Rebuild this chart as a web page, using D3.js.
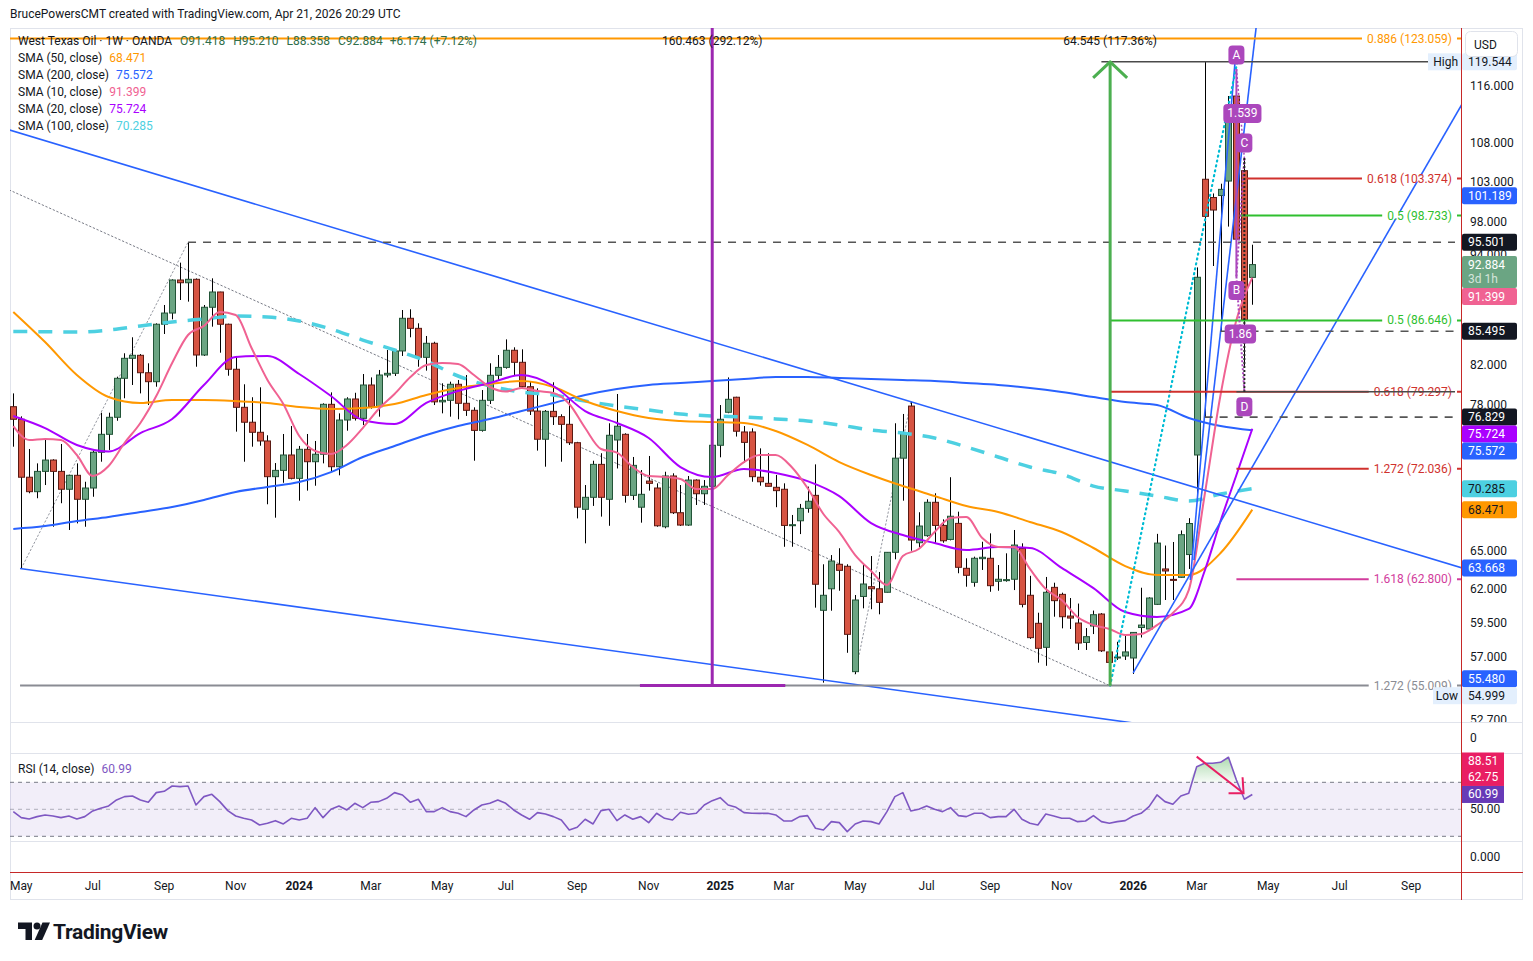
<!DOCTYPE html>
<html>
<head>
<meta charset="utf-8">
<title>West Texas Oil 1W</title>
<script src="https://cdn.jsdelivr.net/npm/d3@7/dist/d3.min.js"></script>
<style>
  html, body { margin: 0; padding: 0; background: #fff; }
  svg { display: block; font-family: Roboto, "Noto Sans", "DejaVu Sans", sans-serif; }
</style>
</head>
<body>
<svg id="chart" width="1533" height="961"></svg>
<script>
// weekly candles, first bar = week of 2023-04-24
const opens = [77.83,76.62,71.29,70.02,71.81,72.83,71.81,70.23,71.46,69.36,
  70.34,73.54,75.20,76.81,80.63,82.66,82.97,81.19,80.29,86.24,
  87.45,91.12,90.81,91.20,83.00,88.08,89.77,86.24,81.54,77.77,
  76.34,75.39,74.58,71.34,71.90,73.29,71.19,73.81,72.68,73.36,
  78.06,72.23,76.55,78.58,76.71,79.96,77.83,80.96,81.13,83.42,
  86.88,85.80,82.76,84.22,78.30,78.45,80.03,78.16,77.48,75.57,
  78.45,80.93,81.73,83.49,82.25,79.79,77.41,74.74,77.38,76.87,
  76.14,74.42,68.50,69.53,72.44,69.36,74.67,75.20,69.70,68.68,
  70.95,70.34,67.03,71.40,68.21,67.17,71.04,69.84,70.49,74.18,
  77.29,78.75,75.42,75.42,71.29,70.75,70.40,70.23,67.14,67.53,
  68.58,69.70,60.41,62.05,63.97,63.81,55.97,61.46,62.21,62.05,
  61.78,64.93,73.00,77.89,65.71,66.29,69.10,67.14,65.98,67.31,
  63.65,62.55,64.42,64.45,62.63,62.71,62.79,65.25,61.55,59.44,
  57.69,62.16,61.62,59.98,59.46,58.04,59.24,60.13,57.36,56.97,
  57.07,56.93,59.13,59.02,60.86,63.60,62.78,62.94,64.75,73.29,
  103.29,100.97,101.22,103.06,114.56,104.40,91.418];
const highs = [79.13,76.90,73.84,72.53,74.67,72.90,74.30,71.50,72.53,70.89,
  73.75,77.25,77.25,80.79,83.18,84.85,83.10,82.15,86.34,88.33,
  91.20,93.11,95.50,91.30,88.33,91.31,89.80,86.30,82.90,80.03,
  78.75,79.73,75.11,72.56,75.23,75.98,74.12,75.23,74.58,78.16,
  79.23,77.19,78.75,79.19,81.06,80.72,81.47,83.52,83.52,87.78,
  87.86,86.34,84.99,84.38,80.13,80.29,80.46,80.96,77.77,79.46,
  82.15,83.00,84.63,83.80,83.59,80.36,79.63,77.51,80.23,77.10,
  78.65,74.50,70.60,72.77,73.45,76.24,79.07,75.30,73.11,71.93,
  73.20,70.75,71.78,71.64,70.60,71.40,71.10,71.04,74.58,77.99,
  80.72,78.80,75.98,75.76,73.90,73.45,71.49,70.75,68.02,68.96,
  70.46,72.44,63.97,64.71,65.26,63.97,61.57,63.99,64.63,63.36,
  64.95,76.24,77.13,78.31,68.25,69.36,69.88,67.65,71.29,68.30,
  64.45,64.58,65.79,66.48,63.91,64.85,66.76,65.66,63.06,60.23,
  62.97,62.52,61.75,61.34,60.92,59.09,60.39,60.20,57.80,58.09,
  58.65,58.80,62.13,61.40,66.44,65.48,65.77,66.72,67.75,92.56,
  119.544,101.48,102.72,114.56,118.48,106.06,95.210];
const lows = [74.05,63.64,69.88,69.45,70.60,67.03,69.02,66.76,67.31,67.03,
  69.58,72.68,73.75,76.48,78.65,79.96,79.13,77.99,79.79,85.20,
  86.77,88.88,88.70,81.80,82.90,85.98,83.24,80.89,75.45,72.68,
  74.05,74.14,68.93,67.79,70.80,71.10,69.24,70.11,70.54,72.53,
  71.78,71.46,75.54,76.50,76.08,77.64,76.87,80.72,80.86,82.90,
  84.85,81.80,81.40,77.99,77.19,76.87,76.62,76.94,72.77,75.45,
  78.09,80.46,81.60,80.96,79.70,77.03,73.69,72.23,76.08,72.68,
  74.21,67.73,65.66,68.79,67.88,67.11,72.07,69.07,69.30,67.37,
  70.11,67.03,66.90,68.10,67.09,67.10,68.87,68.87,70.17,73.08,
  77.20,74.99,72.59,70.89,70.54,70.46,68.68,65.38,65.38,66.42,
  68.21,60.61,55.21,60.38,61.90,57.30,55.80,60.56,60.49,60.11,
  61.76,64.37,69.24,65.06,65.34,66.20,65.66,65.71,65.90,63.26,
  62.21,62.21,63.52,61.82,61.90,62.60,61.95,60.63,58.30,56.60,
  56.38,59.93,59.07,59.02,57.50,57.50,58.65,57.36,54.999,56.79,
  56.79,55.81,58.40,58.87,60.81,61.19,61.19,62.89,63.60,69.25,
  76.829,92.72,85.495,97.38,91.52,81.89,88.358];
const closes = [76.62,71.29,70.02,71.81,72.83,71.81,70.23,71.46,69.36,70.34,
  73.54,75.20,76.81,80.63,82.66,82.97,81.19,80.29,86.24,87.45,
  91.12,90.81,91.20,83.00,88.08,89.77,86.24,81.54,77.77,76.34,
  75.39,74.58,71.34,71.90,73.29,71.19,73.81,72.68,73.36,78.06,
  72.23,76.55,78.58,76.71,79.96,77.83,80.96,81.13,83.42,86.88,
  85.80,82.76,84.22,78.30,78.45,80.03,78.16,77.48,75.57,78.45,
  80.93,81.73,83.49,82.25,79.79,77.41,74.74,77.38,76.87,76.14,
  74.42,68.68,69.53,72.44,69.53,75.11,75.96,69.70,72.35,69.79,
  70.75,67.11,71.40,68.21,67.17,71.04,69.84,70.49,74.18,76.62,
  78.55,75.49,74.45,71.34,70.89,70.49,70.11,67.14,67.20,68.58,
  69.19,62.40,61.55,64.23,63.49,58.63,61.19,62.42,62.05,61.01,
  64.93,73.00,75.30,65.93,67.09,69.10,67.14,65.87,67.91,63.73,
  63.10,64.45,64.53,62.29,62.79,62.76,65.52,60.86,58.39,57.62,
  61.78,61.14,59.93,59.83,58.00,58.46,60.08,57.44,56.62,57.00,
  57.36,58.77,59.31,61.34,65.68,63.44,62.71,66.37,67.30,91.43,
  98.63,99.41,102.00,112.91,95.87,86.71,92.884];

// moving averages (week index -> value)
const slowIdx = [0,4,8,12,16,20,24,28,32,36,40,44,48,52,56,60,64,68,72,76,
  80,84,88,92,96,100,104,108,112,116,120,124,128,132,136,140,144,148,152,156];
const sma200 = [66.85,67.09,67.51,67.85,68.27,68.70,69.30,70.00,70.43,70.86,
  71.75,73.11,74.12,75.14,75.98,76.65,77.41,78.19,78.97,79.56,
  79.96,80.16,80.36,80.56,80.76,80.76,80.66,80.56,80.46,80.36,
  80.16,79.96,79.66,79.26,78.77,78.28,77.99,76.74,75.98,75.572];
const sma50 = [87.57,84.35,80.96,78.77,78.19,78.48,78.48,78.38,78.19,77.80,
  77.61,77.70,78.09,78.97,79.66,80.06,80.36,79.76,78.38,77.41,
  76.74,76.46,76.36,76.27,75.51,74.21,72.65,71.49,70.51,69.64,
  68.78,68.27,67.43,66.59,65.28,63.83,63.12,63.12,64.87,68.471];
const sma100 = [85.47,85.44,85.40,85.62,86.06,86.49,86.81,87.13,87.02,86.59,
  85.73,84.56,83.52,82.38,80.86,79.86,79.26,78.97,78.38,77.90,
  77.51,77.12,76.94,76.84,76.65,76.46,76.08,75.60,75.32,74.86,
  74.03,73.11,72.20,71.57,70.51,70.08,69.64,69.21,69.81,70.285];
const sma20Idx = [0,4,8,12,16,20,24,28,32,36,40,44,48,52,56,60,64,68,72,76,
  80,84,88,92,96,100,104,108,112,116,120,124,128,132,136,140,144,148,150,152,154,156];
const sma20 = [76.94,75.79,74.21,73.61,75.32,76.65,79.96,82.80,82.90,81.06,
  78.87,76.55,76.17,78.19,79.36,80.16,80.96,79.86,77.41,76.27,
  74.86,72.20,71.31,72.02,71.67,70.95,69.64,67.34,66.34,65.68,
  65.12,65.36,65.28,63.68,62.10,60.28,59.91,60.51,63.44,67.51,71.49,75.724];
const sma10Idx = [0,2,4,6,8,10,12,14,16,18,20,22,24,26,28,30,32,34,36,38,
  40,42,44,46,48,50,52,54,56,58,60,62,64,66,68,70,72,74,76,78,
  80,82,84,86,88,90,92,94,96,98,100,102,104,106,108,110,112,114,116,118,
  120,122,124,126,128,130,132,134,136,138,140,142,144,146,148,150,152,154,156];
const sma10 = [75.98,74.67,74.77,74.67,73.29,71.40,72.29,74.39,76.27,78.87,
  82.18,85.09,86.06,87.56,87.24,83.73,80.46,78.09,75.04,73.66,
  73.38,74.21,75.79,77.61,79.07,80.76,81.97,82.18,82.07,80.96,
  79.76,79.31,79.66,79.36,79.17,78.09,75.79,73.84,73.50,72.20,
  71.40,71.31,71.13,70.25,70.25,71.49,72.65,73.29,73.29,72.20,
  70.34,68.10,66.59,64.71,63.44,62.34,64.63,65.20,66.59,67.76,
  67.85,66.09,65.36,65.36,63.60,62.03,61.19,59.91,59.31,59.02,
  58.58,58.66,59.31,60.21,61.95,69.73,78.97,86.70,91.399];

// RSI(14) per week
const rsi = [48.27,43.83,42.84,44.57,45.80,45.06,43.83,45.06,42.84,44.57,
  48.77,50.74,52.47,56.91,59.38,59.88,56.91,55.19,62.35,63.33,
  67.28,66.79,67.28,53.21,59.38,61.11,55.68,49.01,45.06,43.33,
  42.10,38.40,39.63,41.60,39.14,43.33,42.10,43.33,51.23,43.83,
  50.00,52.47,49.51,54.44,51.23,55.19,55.68,58.15,62.35,60.62,
  55.19,57.41,48.27,48.27,51.23,48.27,47.04,44.57,49.51,53.21,
  54.44,56.91,54.44,49.51,45.80,42.59,47.53,46.54,44.57,42.10,
  34.69,36.67,42.59,39.14,49.01,50.00,41.60,45.80,42.59,44.57,
  40.12,47.04,43.33,42.10,47.78,46.30,47.04,53.21,56.42,58.64,
  53.21,51.48,47.53,47.04,47.00,
  47.04,45.80,41.36,41.36,44.57,45.31,35.93,34.69,40.86,40.12,
  33.46,39.14,41.36,40.86,39.14,48.27,59.38,62.35,48.77,50.00,
  52.47,50.00,48.27,51.23,45.31,44.57,47.04,47.04,43.83,44.57,
  44.57,50.00,42.59,39.63,38.40,46.54,45.06,43.33,43.33,40.86,
  41.36,45.31,40.86,39.63,40.86,41.60,45.06,47.04,51.98,60.62,
  55.68,53.70,59.88,61.85,81.60,84.07,84.07,84.81,88.52,71.73,
  57.41,60.99];

const priceTicks = [52.7, 57, 59.5, 62, 65, 68, 71, 74, 78, 82, 86, 90, 94, 98, 103, 108, 116];
const timeTickDates = ["2023-05-01","2023-07-03","2023-09-04","2023-11-06","2024-01-01","2024-03-04",
  "2024-05-06","2024-07-01","2024-09-02","2024-11-04","2025-01-06","2025-03-03","2025-05-05",
  "2025-07-07","2025-09-01","2025-11-03","2026-01-05","2026-03-02","2026-05-04","2026-07-06","2026-09-07"];
const timeTickLabels = ["May","Jul","Sep","Nov","2024","Mar","May","Jul","Sep","Nov","2025","Mar","May",
  "Jul","Sep","Nov","2026","Mar","May","Jul","Sep"];

// fib / level drawings
const fibRatios = ["0.886","0.618","0.5","0.5","0.618","1.272","1.618","1.272"];
const fibPrices = [123.059, 103.374, 98.733, 86.646, 79.297, 72.036, 62.800, 55.009];
const fibStart = [-0.5, 155.3, 154.5, 138.1, 138.1, 154, 154, 0.85];
const fibColors = ["#ff9800","#d0312d","#2fbf2f","#2fbf2f","#d0312d","#d0312d","#d23c9c","#8a8c93"];
const rayPrices = [95.501, 85.495, 76.829];
const rayStart = [22, 152, 150];

// price tags on the right scale
const tagValues = [119.544, 101.189, 95.501, 92.884, 91.399, 85.495, 76.829, 75.724, 75.572, 70.285, 68.471, 63.668, 55.480, 54.999];
const tagFill = ["#e3effd","#2962ff","#131722","#6ba583","#f06292","#131722","#131722","#aa00ff","#2962ff","#4dd0e1","#ff9800","#2962ff","#2962ff","#e3effd"];
const tagInk = ["#131722","#fff","#fff","#fff","#fff","#fff","#fff","#fff","#fff","#131722","#131722","#fff","#fff","#131722"];
const rsiTagValues = [88.51, 62.75, 60.99];
const rsiTagFill = ["#e91e63","#e91e63","#673ab7"];

// ---- layout ----
const left = 10, axisX = 1461, right = 1523;
const mainTop = 28, mainBottom = 722, p2Bottom = 753, rsiBottom = 841, p4Bottom = 872, timeBottom = 900;
const INK = "#131722", GRID = "#e0e3eb";
const fmt3 = d3.format(".3f"), fmt2 = d3.format(".2f");

const WEEK = 7 * 864e5;
const t0 = Date.UTC(2023, 3, 24);
const N = closes.length;
const dateOf = i => new Date(t0 + i * WEEK);
const x = d3.scaleUtc().domain([dateOf(0), dateOf(N - 1)]).range([13.3, 1252.3]);
const xi = i => x(dateOf(i));
const y = d3.scaleLog().domain([57, 116]).range([657, 86]);
const yr = d3.scaleLinear().domain([30, 70]).range([836.3, 782.3]);

const svg = d3.select("#chart");
const defs = svg.append("defs");
defs.append("clipPath").attr("id", "clipMain").append("rect")
  .attr("x", left).attr("y", mainTop).attr("width", axisX - left).attr("height", mainBottom - mainTop);
defs.append("clipPath").attr("id", "clipRsi").append("rect")
  .attr("x", left).attr("y", p2Bottom).attr("width", axisX - left).attr("height", rsiBottom - p2Bottom);
defs.append("clipPath").attr("id", "clipAxis").append("rect")
  .attr("x", axisX).attr("y", mainTop).attr("width", right - axisX).attr("height", mainBottom - mainTop);
const obGrad = defs.append("linearGradient").attr("id", "obFill").attr("x1", 0).attr("x2", 0).attr("y1", 0).attr("y2", 1);
obGrad.append("stop").attr("offset", "0%").attr("stop-color", "#4caf50").attr("stop-opacity", 0.45);
obGrad.append("stop").attr("offset", "100%").attr("stop-color", "#4caf50").attr("stop-opacity", 0.05);

svg.append("rect").attr("width", 1533).attr("height", 961).attr("fill", "#fff");

// header
svg.append("text").attr("x", 10).attr("y", 14).attr("dominant-baseline", "central")
  .attr("font-size", 12).attr("fill", INK)
  .text("BrucePowersCMT created with TradingView.com, Apr 21, 2026 20:29 UTC");

// frame + pane separators
svg.append("rect").attr("x", left + 0.5).attr("y", mainTop + 0.5).attr("width", right - left - 1)
  .attr("height", timeBottom - mainTop - 1).attr("fill", "none").attr("stroke", GRID);
[mainBottom, p2Bottom, rsiBottom].forEach(v => svg.append("line")
  .attr("x1", left).attr("x2", right).attr("y1", v + 0.5).attr("y2", v + 0.5).attr("stroke", GRID));

// ---- main pane ----
const main = svg.append("g").attr("clip-path", "url(#clipMain)");
const seg = (g, a, b, color, w, dash) => g.append("line")
  .attr("x1", xi(a[0])).attr("y1", y(a[1])).attr("x2", xi(b[0])).attr("y2", y(b[1]))
  .attr("stroke", color).attr("stroke-width", w).attr("stroke-dasharray", dash || null)
  .attr("stroke-linecap", dash && dash.startsWith("1") ? "round" : "butt");

// dotted guide lines
seg(main, [-0.5, 101.92], [138.1, 55.0], "#787b86", 1, "1.5,2.5");
seg(main, [1, 63.64], [22, 95.5], "#9598a1", 1, "1.5,2.5");
seg(main, [106, 55.8], [113, 78.31], "#9598a1", 1, "1.5,2.5");

// candles
const cg = main.append("g");
const idx = d3.range(N);
cg.selectAll("line.wick").data(idx).join("line").attr("class", "wick")
  .attr("x1", i => Math.round(xi(i)) + 0.5).attr("x2", i => Math.round(xi(i)) + 0.5)
  .attr("y1", i => y(highs[i])).attr("y2", i => y(lows[i]))
  .attr("stroke", "#000").attr("stroke-width", 1);
cg.selectAll("rect.body").data(idx).join("rect").attr("class", "body")
  .attr("x", i => Math.round(xi(i)) - 2.5)
  .attr("width", 6)
  .attr("y", i => y(Math.max(opens[i], closes[i])))
  .attr("height", i => Math.max(1, Math.abs(y(opens[i]) - y(closes[i]))))
  .attr("fill", i => closes[i] >= opens[i] ? "#6ba583" : "#d75442")
  .attr("stroke", i => closes[i] >= opens[i] ? "#225437" : "#5b1a13")
  .attr("stroke-width", 1);

// moving averages
const maLine = d3.line().x(d => xi(d[0])).y(d => y(d[1])).curve(d3.curveMonotoneX);
const drawMA = (ix, vals, color, w, dash) => main.append("path")
  .attr("d", maLine(ix.map((k, j) => [k, vals[j]])))
  .attr("fill", "none").attr("stroke", color).attr("stroke-width", w)
  .attr("stroke-dasharray", dash || null).attr("stroke-linejoin", "round");
drawMA(slowIdx, sma100, "#4dd0e1", 3.5, "14,11");
drawMA(slowIdx, sma200, "#2962ff", 2);
drawMA(slowIdx, sma50, "#ff9800", 2);
drawMA(sma20Idx, sma20, "#aa00ff", 2);
drawMA(sma10Idx, sma10, "#f06292", 2);

// trend lines
seg(main, [-0.5, 109.82], [182.5, 63.668], "#2962ff", 1.6);
seg(main, [0.85, 63.64], [182.5, 49.6], "#2962ff", 1.6);
seg(main, [141, 55.88], [182.5, 113.6], "#2962ff", 1.6);
seg(main, [148.2, 62.73], [153.9, 120.5], "#2962ff", 1.6);
seg(main, [148.65, 64.31], [156.6, 126], "#2962ff", 1.6);
seg(main, [138.1, 55.0], [154.1, 119.5], "#00bcd4", 2.2, "1,4");

// horizontal levels
const endX = axisX;
fibPrices.forEach((p, k) => {
  main.append("line").attr("x1", xi(fibStart[k])).attr("x2", endX)
    .attr("y1", y(p)).attr("y2", y(p)).attr("stroke", fibColors[k]).attr("stroke-width", 2);
});
rayPrices.forEach((p, k) => {
  main.append("line").attr("x1", xi(rayStart[k])).attr("x2", endX - 6)
    .attr("y1", y(p)).attr("y2", y(p)).attr("stroke", "#555").attr("stroke-width", 1.6)
    .attr("stroke-dasharray", "8,7");
});
// fib labels with white background
fibPrices.forEach((p, k) => {
  const g = main.append("g");
  const bg = g.append("rect");
  const t = g.append("text").attr("x", 1452).attr("y", y(p)).attr("text-anchor", "end")
    .attr("dominant-baseline", "central").attr("font-size", 12).attr("fill", fibColors[k])
    .text(`${fibRatios[k]} (${fmt3(p)})`);
  const w = t.node().getComputedTextLength();
  bg.attr("x", 1452 - w - 5).attr("y", y(p) - 3).attr("width", w + 10).attr("height", 6).attr("fill", "#fff");
});
// solid dark levels (high of range, D level)
main.append("line").attr("x1", xi(137)).attr("x2", endX - 6).attr("y1", y(119.544)).attr("y2", y(119.544))
  .attr("stroke", "#4a4a4a").attr("stroke-width", 1.6);
main.append("line").attr("x1", xi(154)).attr("x2", endX - 6).attr("y1", y(79.297)).attr("y2", y(79.297))
  .attr("stroke", "#4a4a4a").attr("stroke-width", 1.6);

// purple measure (vertical + base)
main.append("line").attr("x1", xi(88)).attr("x2", xi(88)).attr("y1", y(55.009)).attr("y2", y(215.47))
  .attr("stroke", "#9c27b0").attr("stroke-width", 3);
main.append("line").attr("x1", xi(78.9)).attr("x2", xi(97.2)).attr("y1", y(55.009)).attr("y2", y(55.009))
  .attr("stroke", "#9c27b0").attr("stroke-width", 3);

// green measure arrow
const gx = xi(138.1), gTop = y(119.544);
main.append("line").attr("x1", gx).attr("x2", gx).attr("y1", y(54.999)).attr("y2", gTop)
  .attr("stroke", "#4caf50").attr("stroke-width", 3);
main.append("path").attr("d", `M${gx - 17},${gTop + 16} L${gx},${gTop} L${gx + 17},${gTop + 16}`)
  .attr("fill", "none").attr("stroke", "#4caf50").attr("stroke-width", 3).attr("stroke-linejoin", "round");

// ABCD pattern
const pA = [154, 118.48], pB = [154, 91.52], pC = [155, 106.06], pD = [155, 79.297];
const tag = (g, cx, cy, label) => {
  const t = g.append("text").attr("x", cx).attr("y", cy).attr("text-anchor", "middle")
    .attr("dominant-baseline", "central").attr("font-size", 12).attr("fill", "#fff").text(label);
  const w = Math.max(16, t.node().getComputedTextLength() + 8);
  g.insert("rect", "text").attr("x", cx - w / 2).attr("y", cy - 9.5)
    .attr("width", w).attr("height", 19).attr("rx", 4).attr("fill", "#ab47bc");
};
seg(main, pA, pB, "#ab47bc", 2);
seg(main, pB, pC, "#ab47bc", 2, "2,2");
seg(main, pC, pD, "#222", 2, "2,2");
seg(main, pA, pC, "#ab47bc", 1.5, "2,2");
seg(main, pB, pD, "#ab47bc", 2, "2,2");
const abcd = main.append("g");
[[pA, -14, "A"], [pB, 14, "B"], [pC, -15, "C"], [pD, 15, "D"]].forEach(([p, off, l]) => {
  const g = abcd.append("g"); tag(g, xi(p[0]), y(p[1]) + off, l);
});
{ const g = abcd.append("g"); tag(g, (xi(pA[0]) + xi(pC[0])) / 2 + 2, (y(pA[1]) + y(pC[1])) / 2, "1.539"); }
{ const g = abcd.append("g"); tag(g, (xi(pB[0]) + xi(pD[0])) / 2, (y(pB[1]) + y(pD[1])) / 2, "1.86"); }

// measure labels
svg.append("text").attr("x", xi(88)).attr("y", 41).attr("text-anchor", "middle").attr("dominant-baseline", "central")
  .attr("font-size", 12).attr("fill", INK).text("160.463 (292.12%)");
svg.append("text").attr("x", gx).attr("y", 41).attr("text-anchor", "middle").attr("dominant-baseline", "central")
  .attr("font-size", 12).attr("fill", INK).text("64.545 (117.36%)");

// legend
const lg = svg.append("g").attr("font-size", 12);
const t1 = lg.append("text").attr("x", 18).attr("y", 41).attr("dominant-baseline", "central").attr("fill", INK);
t1.append("tspan").text("West Texas Oil · 1W · OANDA");
const N1 = N - 1, chg = closes[N1] - closes[N1 - 1];
[["O", opens[N1]], ["H", highs[N1]], ["L", lows[N1]], ["C", closes[N1]]].forEach(([k, v]) =>
  t1.append("tspan").attr("dx", 8).attr("fill", "#2f6e4a").text(k + fmt3(v)));
t1.append("tspan").attr("dx", 7).attr("fill", "#2f6e4a")
  .text(`+${fmt3(chg)} (+${fmt2(chg / closes[N1 - 1] * 100)}%)`);
const legendRows = [["SMA (50, close)", sma50, "#ff9800"], ["SMA (200, close)", sma200, "#2962ff"],
  ["SMA (10, close)", sma10, "#f06292"], ["SMA (20, close)", sma20, "#aa00ff"], ["SMA (100, close)", sma100, "#4dd0e1"]];
legendRows.forEach(([name, arr, c], k) => {
  const t = lg.append("text").attr("x", 18).attr("y", 58 + 17 * k).attr("dominant-baseline", "central").attr("fill", INK);
  t.append("tspan").text(name);
  t.append("tspan").attr("dx", 7).attr("fill", c).text(fmt3(arr[arr.length - 1]));
});

// ---- price axis ----
const ax = svg.append("g").attr("clip-path", "url(#clipAxis)").attr("font-size", 12);
// lay out the tags first so that ticks fully hidden under them can be skipped
const tagBoxes = [];
let prevBottom = -Infinity;
tagValues.forEach((v, k) => {
  const isLast = v === closes[N1];
  const h = isLast ? 32 : 17;
  const top = Math.max(y(v) - 8.5, prevBottom);
  prevBottom = top + h;
  tagBoxes.push({ v, k, top, h, isLast });
});
priceTicks.forEach(p => {
  const ty = y(p);
  if (tagBoxes.some(b => ty > b.top && ty < b.top + b.h)) return;
  ax.append("text").attr("x", 1470).attr("y", ty)
    .attr("dominant-baseline", "central").attr("fill", INK).text(fmt3(p));
});
tagBoxes.forEach(({ v, k, top, h, isLast }) => {
  ax.append("rect").attr("x", 1462).attr("y", top).attr("width", 55).attr("height", h).attr("rx", 2).attr("fill", tagFill[k]);
  ax.append("text").attr("x", 1468).attr("y", top + 8.5).attr("dominant-baseline", "central")
    .attr("fill", tagInk[k]).text(fmt3(v));
  if (isLast) ax.append("text").attr("x", 1468).attr("y", top + 23).attr("dominant-baseline", "central")
    .attr("fill", "rgba(255,255,255,0.72)").text("3d 1h");
  if (v === 119.544 || v === 54.999) {
    const lab = v === 119.544 ? "High" : "Low";
    svg.append("rect").attr("x", lab === "High" ? 1428 : 1433).attr("y", top).attr("width", lab === "High" ? 33 : 28)
      .attr("height", 17).attr("fill", "#e3effd");
    svg.append("text").attr("x", 1458).attr("y", top + 8.5).attr("text-anchor", "end")
      .attr("dominant-baseline", "central").attr("font-size", 12).attr("fill", INK).text(lab);
  }
});
// currency box
svg.append("rect").attr("x", 1465.5).attr("y", 31.5).attr("width", 52).attr("height", 25).attr("rx", 5)
  .attr("fill", "#fff").attr("stroke", GRID);
svg.append("text").attr("x", 1474).attr("y", 44.5).attr("dominant-baseline", "central")
  .attr("font-size", 12).attr("fill", INK).text("USD");

// empty panes
svg.append("text").attr("x", 1470).attr("y", (mainBottom + p2Bottom) / 2).attr("dominant-baseline", "central")
  .attr("font-size", 12).attr("fill", INK).text("0");
svg.append("text").attr("x", 1470).attr("y", (rsiBottom + p4Bottom) / 2).attr("dominant-baseline", "central")
  .attr("font-size", 12).attr("fill", INK).text("0.000");

// ---- RSI pane ----
const rp = svg.append("g").attr("clip-path", "url(#clipRsi)");
rp.append("rect").attr("x", left).attr("width", axisX - left).attr("y", yr(70)).attr("height", yr(30) - yr(70))
  .attr("fill", "rgba(126,87,194,0.1)");
[[70, "#787b86"], [50, "rgba(120,123,134,0.55)"], [30, "#787b86"]].forEach(([v, c]) => rp.append("line")
  .attr("x1", left).attr("x2", axisX).attr("y1", yr(v)).attr("y2", yr(v))
  .attr("stroke", c).attr("stroke-dasharray", "4,4"));
rp.append("path").attr("d", d3.area().x((d, i) => xi(i)).y0(yr(70)).y1(d => yr(Math.max(d, 70)))(rsi))
  .attr("fill", "url(#obFill)");
rp.append("path").attr("d", d3.line().x((d, i) => xi(i)).y(d => yr(d))(rsi))
  .attr("fill", "none").attr("stroke", "#7e57c2").attr("stroke-width", 1.6).attr("stroke-linejoin", "round");
// divergence arrow
const dA = [xi(149), yr(89.0)], dB = [xi(154.9), yr(61.9)];
rp.append("line").attr("x1", dA[0]).attr("y1", dA[1]).attr("x2", dB[0]).attr("y2", dB[1])
  .attr("stroke", "#e91e63").attr("stroke-width", 2);
rp.append("path").attr("d", `M${dB[0] - 15},${dB[1]} L${dB[0]},${dB[1]} L${dB[0] - 1},${dB[1] - 16}`)
  .attr("fill", "none").attr("stroke", "#e91e63").attr("stroke-width", 2);
const rl = svg.append("text").attr("x", 18).attr("y", 769).attr("dominant-baseline", "central").attr("font-size", 12).attr("fill", INK);
rl.append("tspan").text("RSI (14, close)");
rl.append("tspan").attr("dx", 7).attr("fill", "#7e57c2").text(fmt2(rsi[N1]));
svg.append("text").attr("x", 1470).attr("y", yr(50)).attr("dominant-baseline", "central")
  .attr("font-size", 12).attr("fill", INK).text("50.00");
// rsi tags: keep current value, stack the others above it, clamp to pane top
const rsiPos = [];
let nextTop = Infinity;
for (let k = rsiTagValues.length - 1; k >= 0; k--) {
  let c = Math.min(yr(rsiTagValues[k]), nextTop - 8.5);
  c = Math.max(c, p2Bottom + 8);
  rsiPos[k] = c; nextTop = c - 8.5;
}
rsiTagValues.forEach((v, k) => {
  svg.append("rect").attr("x", 1462).attr("y", rsiPos[k] - 8.5).attr("width", 42).attr("height", 17).attr("fill", rsiTagFill[k]);
  svg.append("text").attr("x", 1468).attr("y", rsiPos[k]).attr("dominant-baseline", "central")
    .attr("font-size", 12).attr("fill", "#fff").text(fmt2(v));
});

// axis boundary lines
svg.append("line").attr("x1", axisX + 0.5).attr("x2", axisX + 0.5).attr("y1", mainTop).attr("y2", timeBottom)
  .attr("stroke", "#c62828");
svg.append("line").attr("x1", left).attr("x2", right).attr("y1", p4Bottom + 0.5).attr("y2", p4Bottom + 0.5)
  .attr("stroke", "#c62828");

// ---- time axis ----
const parse = d3.utcParse("%Y-%m-%d");
timeTickDates.forEach((d, k) => {
  const lab = timeTickLabels[k];
  svg.append("text").attr("x", x(parse(d))).attr("y", 886).attr("text-anchor", "middle")
    .attr("dominant-baseline", "central").attr("font-size", 12).attr("fill", INK)
    .attr("font-weight", /^\d{4}$/.test(lab) ? 700 : 400).text(lab);
});

// ---- logo ----
const logo = svg.append("g").attr("fill", INK);
logo.append("path").attr("d", "M18,922.5 h14 v17.5 h-6.5 v-11 h-7.5 z");
logo.append("circle").attr("cx", 37).attr("cy", 926).attr("r", 3.5);
logo.append("path").attr("d", "M42.5,922.5 h7.5 l-7.8,17.5 h-7.5 z");
logo.append("text").attr("x", 53).attr("y", 939).attr("font-size", 21).attr("font-weight", 700)
  .attr("letter-spacing", "-0.3").text("TradingView");
</script>
</body>
</html>
